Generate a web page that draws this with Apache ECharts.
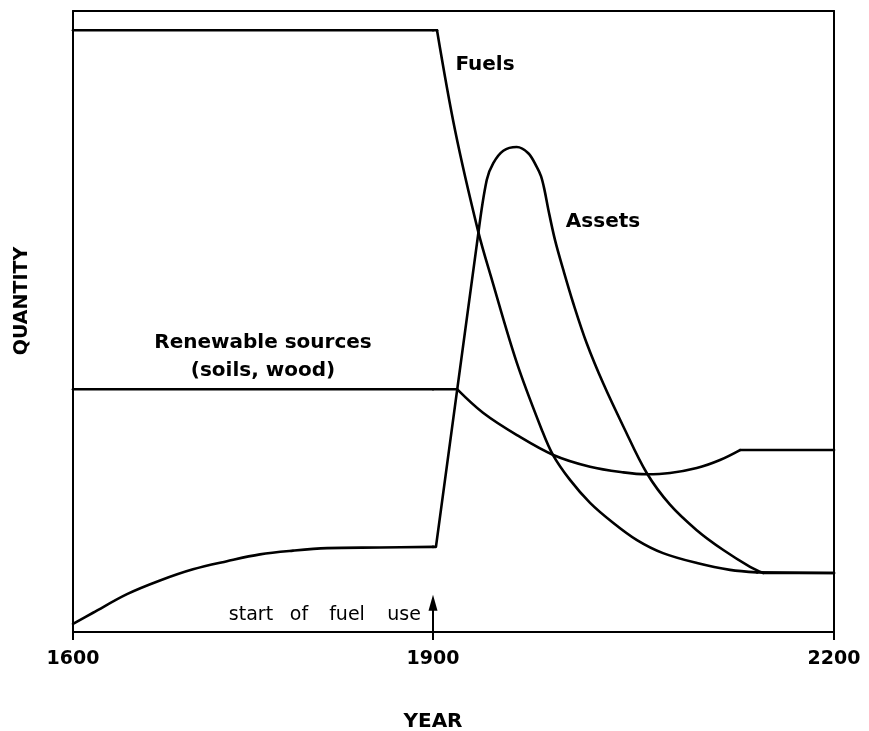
<!DOCTYPE html>
<html><head><meta charset="utf-8">
<script src="https://cdn.jsdelivr.net/npm/echarts@6/dist/echarts.min.js"></script>
<style>html,body{margin:0;padding:0;background:#fff}#chart{width:869px;height:731px}</style>
</head><body><div id="chart"></div>
<script>
// ---- data (years on x, relative quantity 0-100 on y) ----
const xTicks = [1600, 1900, 2200];
const splitYear = 1900;

const fuelsYears  = [1600, 1903, 1916.5, 1933.7, 1944.1, 1962.8, 1981.5, 1989.8, 2002.5, 2017.5, 2034.7, 2052.6, 2072.1, 2097.5, 2122.2, 2142.4, 2200];
const fuelsValues = [96.9, 96.9, 80.8, 64.6, 56.7, 43.3, 32.5, 28.5, 24.5, 20.8, 17.6, 14.8, 12.7, 11.1, 10.0, 9.6, 9.5];
const fuelsCurves = [[1, 15]];

const assetsYears  = [1600, 1616.7, 1645.0, 1672.5, 1700, 1728.3, 1755.8, 1783.3, 1811.7, 1855.8, 1900, 1902.2, 1933.9, 1940.2, 1945.1, 1952.6, 1962.6, 1971.3, 1977.6, 1980.8, 1983.4, 1986.3, 1991.3, 1997.5, 2005.0, 2015.0, 2027.4, 2042.4, 2059.9, 2077.3, 2097.3, 2117.2, 2137.2, 2147.1, 2200];
const assetsValues = [1.3, 3.1, 6.1, 8.3, 10.1, 11.4, 12.5, 13.1, 13.5, 13.6, 13.7, 13.7, 64.2, 72.8, 75.5, 77.5, 78.1, 77.1, 74.9, 73.4, 71.2, 68.0, 63.1, 58.3, 52.9, 46.5, 40.0, 33.1, 25.6, 20.5, 16.4, 13.2, 10.5, 9.5, 9.5];
const assetsCurves = [[0, 10], [12, 33]];

const renewYears  = [1600, 1900, 1918.0, 1937.4, 1962.8, 1990.0, 2017.5, 2042.4, 2059.9, 2077.3, 2097.3, 2114.7, 2129.7, 2200];
const renewValues = [39.1, 39.1, 39.1, 35.3, 31.7, 28.5, 26.6, 25.7, 25.4, 25.6, 26.4, 27.7, 29.3, 29.3];
const renewCurves = [[2, 12]];

const arrowFrom = [1900, 4.7];
const arrowTo   = [1900, 0];

// ---- helpers ----
function buildPieces(years, values, curves) {
  const n = years.length, out = [];
  let cur = 0;
  const pts = (a, b) => years.slice(a, b + 1).map((y, i) => [y, values[a + i]]);
  curves.forEach(([a, b]) => {
    if (a > cur) out.push({ pts: pts(cur, a), smooth: false });
    out.push({ pts: pts(a, b), smooth: true });
    cur = b;
  });
  if (cur < n - 1) out.push({ pts: pts(cur, n - 1), smooth: false });
  return out;
}
function splitPiece(p) {
  const left = [], right = [];
  for (let i = 0; i < p.pts.length; i++) {
    const q = p.pts[i];
    if (i > 0) {
      const a = p.pts[i - 1];
      if (a[0] < splitYear && q[0] > splitYear) {
        const t = (splitYear - a[0]) / (q[0] - a[0]);
        const m = [splitYear, a[1] + t * (q[1] - a[1])];
        left.push(m); right.push(m);
      }
    }
    if (q[0] <= splitYear) left.push(q);
    if (q[0] >= splitYear) right.push(q);
  }
  return [left, right];
}
const series = [];
function addCurve(years, values, curves) {
  buildPieces(years, values, curves).forEach(p => {
    splitPiece(p).forEach((d, gi) => {
      if (d.length < 2) return;
      series.push({
        type: 'line', xAxisIndex: gi, yAxisIndex: gi, data: d,
        smooth: p.smooth ? 0.35 : false, showSymbol: false, silent: true,
        lineStyle: { color: '#000', width: 2.6, join: 'round', cap: 'round' }, animation: false
      });
    });
  });
}
addCurve(fuelsYears, fuelsValues, fuelsCurves);
addCurve(assetsYears, assetsValues, assetsCurves);
addCurve(renewYears, renewValues, renewCurves);

// arrow "start of fuel use"
series.push({
  type: 'line', xAxisIndex: 0, yAxisIndex: 0, data: [], silent: true, animation: false,
  markLine: {
    silent: true, animation: false, symbol: ['triangle', 'none'], symbolSize: [9, 16],
    label: { show: false },
    lineStyle: { color: '#000', width: 2, type: 'solid' },
    data: [[{ coord: arrowFrom }, { coord: arrowTo }]]
  }
});

const frame = { show: true, onZero: false, lineStyle: { color: '#000', width: 2 } };
const fontB = { fontFamily: 'DejaVu Sans', fontWeight: 'bold', color: '#000' };
const txt = (text, x, y, size, bold, extra) => Object.assign({
  type: 'text', x: x, y: y, silent: true,
  style: { text: text, fontSize: size, align: 'center', verticalAlign: 'middle', fill: '#000',
           fontFamily: 'DejaVu Sans', fontWeight: bold ? 'bold' : 'normal' }
}, extra || {});

const option = {
  backgroundColor: '#fff',
  animation: false,
  grid: [
    { left: 73, top: 11, width: 360, height: 621 },
    { left: 433, top: 11, width: 401, height: 621 }
  ],
  xAxis: [
    { gridIndex: 0, type: 'value', min: xTicks[0], max: xTicks[1], interval: xTicks[1] - xTicks[0], position: 'bottom',
      axisLine: frame, axisTick: { show: true, length: 8, lineStyle: { color: '#000', width: 2 } },
      axisLabel: Object.assign({ fontSize: 19, margin: 18, formatter: v => String(v) }, fontB), splitLine: { show: false } },
    { gridIndex: 1, type: 'value', min: xTicks[1], max: xTicks[2], interval: xTicks[2] - xTicks[1], position: 'bottom',
      axisLine: frame, axisTick: { show: true, length: 8, lineStyle: { color: '#000', width: 2 } },
      axisLabel: Object.assign({ fontSize: 19, margin: 18, formatter: v => (v === xTicks[1] ? '' : String(v)) }, fontB),
      splitLine: { show: false } },
    { gridIndex: 0, type: 'value', min: xTicks[0], max: xTicks[1], position: 'top', axisLine: frame,
      axisTick: { show: false }, axisLabel: { show: false }, splitLine: { show: false } },
    { gridIndex: 1, type: 'value', min: xTicks[1], max: xTicks[2], position: 'top', axisLine: frame,
      axisTick: { show: false }, axisLabel: { show: false }, splitLine: { show: false } }
  ],
  yAxis: [
    { gridIndex: 0, type: 'value', min: 0, max: 100, position: 'left', axisLine: frame,
      axisTick: { show: false }, axisLabel: { show: false }, splitLine: { show: false } },
    { gridIndex: 1, type: 'value', min: 0, max: 100, position: 'right', axisLine: frame,
      axisTick: { show: false }, axisLabel: { show: false }, splitLine: { show: false } }
  ],
  graphic: [
    txt('Fuels', 485, 65, 20, true),
    txt('Assets', 603, 222, 20, true),
    txt('Renewable sources', 263, 343, 20, true),
    txt('(soils, wood)', 263, 371, 20, true),
    txt('start', 251, 615, 19, false),
    txt('of', 299, 615, 19, false),
    txt('fuel', 347, 615, 19, false),
    txt('use', 404, 615, 19, false),
    txt('YEAR', 433, 722, 20, true),
    txt('QUANTITY', 22, 301, 19, true, { rotation: Math.PI / 2 })
  ],
  series: series
};
const chart = echarts.init(document.getElementById('chart'), null, { renderer: 'canvas' });
chart.setOption(option);
</script></body></html>
